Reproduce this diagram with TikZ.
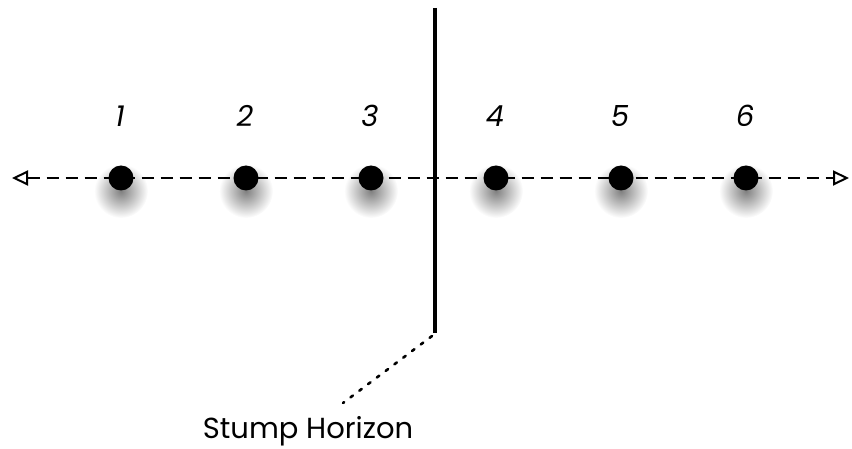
\documentclass[tikz,border=0pt]{standalone}
\usepackage{fontspec}
\setmainfont{Poppins}
\usetikzlibrary{arrows.meta}
\begin{document}
\begin{tikzpicture}[x=1pt,y=-1pt,
  dotnode/.style={circle,fill=black,inner sep=0pt,minimum size=25pt},
  numlabel/.style={font=\fontsize{29}{31}\selectfont\itshape,anchor=base,inner sep=0pt},
  axis/.style={dash pattern=on 12pt off 7pt,line width=2.2pt,{Triangle[open,length=16pt,width=15pt,line width=2pt]}-{Triangle[open,length=16pt,width=15pt,line width=2pt]}}]
\useasboundingbox (0,0) rectangle (852,449);
\foreach \i/\x in {1/121,2/246,3/371,4/496,5/621,6/746}{
  \shade[inner color=black!50,outer color=white] (\x,191) circle (27pt);
}
\coordinate (L) at (12,178);
\coordinate (R) at (849,178);
\draw[axis] (L) -- (R);
\foreach \i/\x in {1/121,2/246,3/371,4/496,5/621,6/746}{
  \node[dotnode] (d\i) at (\x,178) {};
  \node[numlabel] (n\i) at (\x-1,127) {\i};
}
\coordinate (top) at (435,8);
\coordinate (bot) at (435,333);
\draw[line width=4pt] (top) -- (bot);
\node[font=\fontsize{29}{31}\selectfont,anchor=base,inner sep=0pt] (lbl) at (308,438) {Stump Horizon};
\coordinate (dend) at (343,403);
\draw[line width=2.6pt,dash pattern=on 3pt off 8pt,line cap=round] (432,336) -- (dend);
\end{tikzpicture}
\end{document}
